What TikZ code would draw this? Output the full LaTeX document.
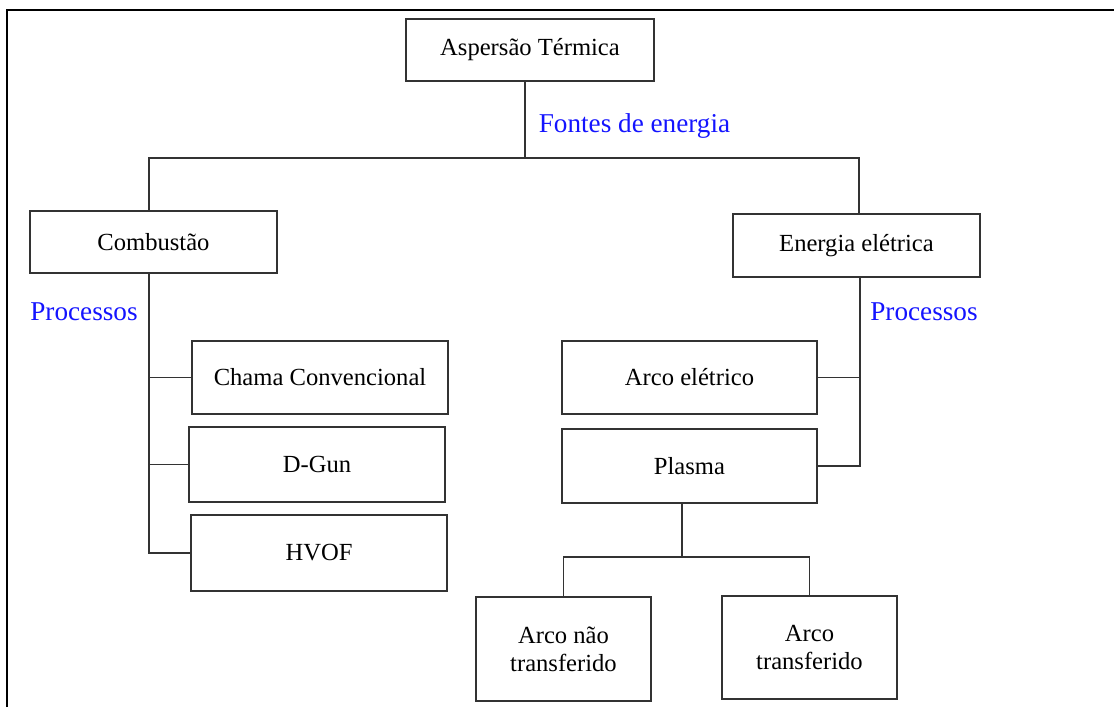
\documentclass[tikz,border=0pt]{standalone}
\usepackage{fontspec}
\setmainfont{Liberation Serif}
\usetikzlibrary{positioning}

\definecolor{linha}{RGB}{51,51,51}
\definecolor{azul}{RGB}{20,20,255}

\tikzset{
  caixa/.style={draw=linha, line width=0.9pt, inner sep=0pt, align=center,
    font=\fontsize{12.3pt}{14pt}\selectfont},
  rotulo/.style={text=azul, inner sep=0pt, font=\fontsize{13.6pt}{16pt}\selectfont},
  ligacao/.style={draw=linha, line width=0.9pt}
}

\begin{document}
\begin{tikzpicture}[x=0.5pt,y=-0.5pt]
	\useasboundingbox (0,0) rectangle (1114,707);
	%frame
	\draw [line width=1pt] (7,707) -- (7,10) -- (1114,10);

	%Shape: Rectangle
	\node [caixa, minimum width=124pt, minimum height=31pt] (aspersao) at (530,50) {Aspersão Térmica};
	%Shape: Rectangle
	\node [caixa, minimum width=123.5pt, minimum height=31pt] (combustao) at (153.5,242) {Combustão};
	%Shape: Rectangle
	\node [caixa, minimum width=123.5pt, minimum height=31.5pt] (eletrica) at (856.5,245.5) {Energia elétrica};
	%Shape: Rectangle
	\node [caixa, minimum width=128pt, minimum height=36.5pt] (chama) at (320,377.5) {Chama Convencional};
	%Shape: Rectangle
	\node [caixa, minimum width=128pt, minimum height=37.5pt] (dgun) at (317,464.5) {D-Gun};
	%Shape: Rectangle
	\node [caixa, minimum width=128pt, minimum height=38pt] (hvof) at (319,553) {HVOF};
	%Shape: Rectangle
	\node [caixa, minimum width=127.5pt, minimum height=36.5pt] (arcoel) at (689.5,377.5) {Arco elétrico};
	%Shape: Rectangle
	\node [caixa, minimum width=127.5pt, minimum height=37pt] (plasma) at (689.5,466) {Plasma};
	%Shape: Rectangle
	\node [caixa, minimum width=87.5pt, minimum height=52pt] (naotransf) at (563.5,649) {Arco não\\transferido};
	%Shape: Rectangle
	\node [caixa, minimum width=87.5pt, minimum height=51.5pt] (transf) at (809.5,647.5) {Arco\\transferido};

	% Text Node
	\node [rotulo] (fontes) at (634.5,125.5) {Fontes de energia};
	% Text Node
	\node [rotulo] (procC) at (84,311.5) {Processos};
	% Text Node
	\node [rotulo] (procE) at (924,311.5) {Processos};

	%Straight Lines: energy sources
	\coordinate (divisao) at (525,158);
	\coordinate (ramoC) at (149,158);
	\coordinate (ramoE) at (859,158);
	\draw [ligacao] (aspersao.south -| divisao) -- (divisao);
	\draw [ligacao] (ramoC |- combustao.north) -- (ramoC) -- (ramoE) -- (ramoE |- eletrica.north);

	%Straight Lines: combustion processes
	\draw [ligacao] (ramoC |- combustao.south) -- (ramoC |- hvof.west) -- (hvof.west);
	\draw [ligacao] (ramoC |- chama.west) -- (chama.west);
	\draw [ligacao] (ramoC |- dgun.west) -- (dgun.west);

	%Straight Lines: electric processes
	\coordinate (espE) at (860,0);
	\draw [ligacao] (espE |- eletrica.south) -- (espE |- plasma.east) -- (plasma.east);
	\draw [ligacao] (espE |- arcoel.east) -- (arcoel.east);

	%Straight Lines: plasma types
	\coordinate (ramoP) at (682,557);
	\draw [ligacao] (ramoP |- plasma.south) -- (ramoP);
	\draw [ligacao] (naotransf.north) |- (ramoP) -| (transf.north);

\end{tikzpicture}
\end{document}
